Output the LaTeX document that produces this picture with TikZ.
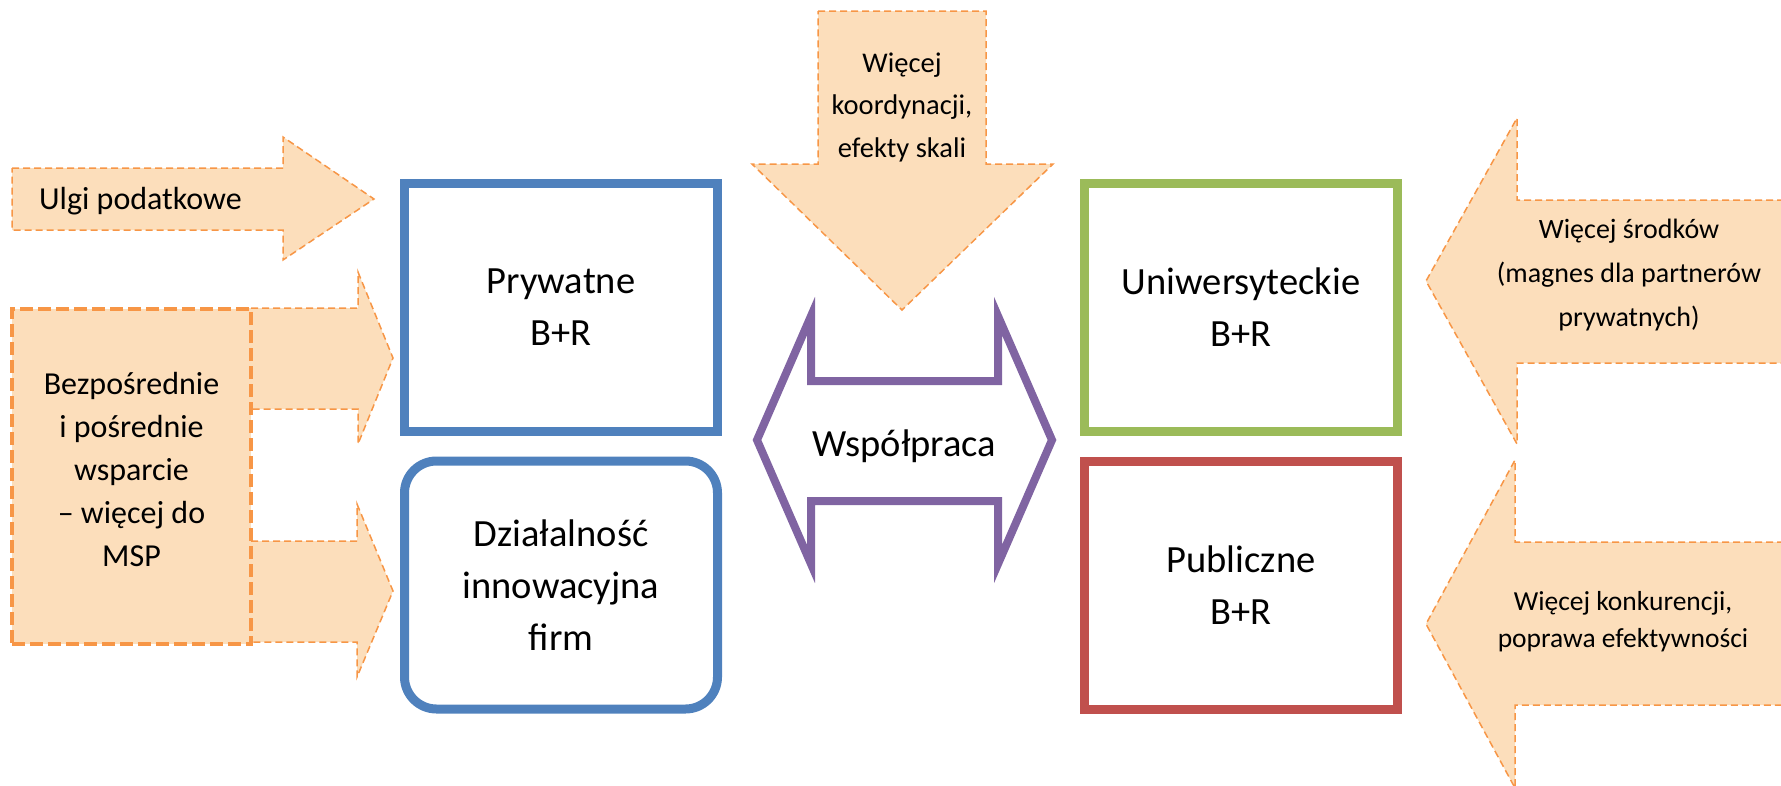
\documentclass[tikz,border=0pt]{standalone}
\usepackage{fontspec}
\setmainfont{Carlito}
\usetikzlibrary{positioning}
\definecolor{sectorblue}{HTML}{4F81BD}
\definecolor{sectorgreen}{HTML}{9BBB59}
\definecolor{sectorred}{HTML}{C0504D}
\definecolor{coopviolet}{HTML}{8064A2}
\definecolor{pushline}{HTML}{F79646}
\definecolor{pushfill}{HTML}{FCDEBB}
\begin{document}
\begin{tikzpicture}[x=1pt, y=-1pt,
  sector/.style={draw, line width=9pt, minimum width=313pt, minimum height=248pt,
    inner sep=0pt, align=center, font=\fontsize{38.5}{52}\selectfont},
  push/.style={draw=pushline, fill=pushfill, line width=1.5pt, dash pattern=on 7pt off 4pt},
  pushtext/.style={align=center, inner sep=0pt}]
\useasboundingbox (0,0) rectangle (1781,785);

% Instruments (left)
\draw[push] (12,168) -- (283,168) -- (283,137) -- (374,199) -- (283,260) -- (283,230) -- (12,230) -- cycle;
\node[pushtext, anchor=base west, font=\fontsize{32}{43}\selectfont] (ulgi) at (39,209) {Ulgi podatkowe};
\draw[push] (240,308) -- (358,308) -- (358,272) -- (393,358) -- (358,444) -- (358,409) -- (240,409) -- cycle;
\draw[push] (240,541) -- (357,541) -- (357,504) -- (393,591) -- (357,677) -- (357,642) -- (240,642) -- cycle;
\node[push, line width=3.5pt, dash pattern=on 13pt off 5pt, minimum width=239pt, minimum height=335pt,
  inner sep=0pt] (wsparcie) at (131.5,476.5) {};
\node[pushtext, font=\fontsize{32}{43}\selectfont] (wsparcietxt) at ([yshift=7pt]wsparcie.center)
  {Bezpośrednie\\i pośrednie\\wsparcie\\– więcej do\\MSP};

% Top
\draw[push] (818,11) -- (986,11) -- (986,164) -- (1053,164) -- (902,310) -- (752,164) -- (818,164) -- cycle;
\node[pushtext, font=\fontsize{28.5}{42.5}\selectfont] (koordynacja) at (902,107)
  {Więcej\\koordynacji,\\efekty skali};

% Instruments (right)
\draw[push] (1795,200) -- (1517,200) -- (1517,118) -- (1426,281) -- (1517,444) -- (1517,363) -- (1795,363) -- cycle;
\node[pushtext, font=\fontsize{28}{44}\selectfont] (srodki) at (1629,275)
  {Więcej środków\\(magnes dla partnerów\\prywatnych)};
\draw[push] (1795,542) -- (1515,542) -- (1515,460) -- (1426,624) -- (1515,788) -- (1515,705) -- (1795,705) -- cycle;
\node[pushtext, font=\fontsize{27.5}{37}\selectfont] (konkurencja) at (1623,622)
  {Więcej konkurencji,\\poprawa efektywności};

% Sectors
\node[sector, draw=sectorblue] (prywatne) at (561,307) {Prywatne\\B+R};
\node[sector, draw=sectorblue, rounded corners=32pt, below=21pt of prywatne] (firmy)
  {Działalność\\innowacyjna\\firm};
\node[sector, draw=sectorgreen] (uczelnie) at (1241,307) {Uniwersyteckie\\B+R};
\node[sector, draw=sectorred, below=21pt of uczelnie] (publiczne) {Publiczne\\B+R};

% Cooperation
\draw[coopviolet, line width=8pt, line join=miter] (757,440) -- (811,316) -- (811,381) -- (998,381)
  -- (998,316) -- (1052,440) -- (998,564) -- (998,501) -- (811,501) -- (811,564) -- cycle;
\node[pushtext, anchor=base, font=\fontsize{38.5}{52}\selectfont] (wspolpraca) at (904.5,456) {Współpraca};
\end{tikzpicture}
\end{document}
